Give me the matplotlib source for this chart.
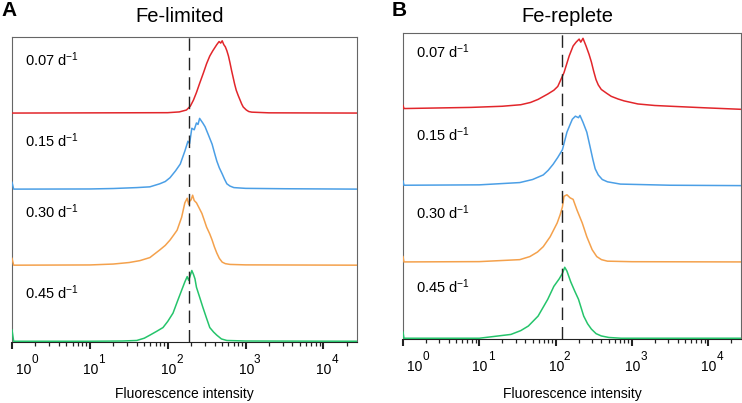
import numpy as np
import matplotlib
matplotlib.use('Agg')
import matplotlib.pyplot as plt
from matplotlib.ticker import FixedLocator, NullFormatter

plt.rcParams['font.family'] = ['Liberation Sans', 'DejaVu Sans']
plt.rcParams['mathtext.fontset'] = 'custom'
plt.rcParams['mathtext.rm'] = 'Liberation Sans'
plt.rcParams['mathtext.it'] = 'Liberation Sans:italic'
plt.rcParams['mathtext.bf'] = 'Liberation Sans:bold'

#------- data (fluorescence intensity, normalised counts)

rates = ['0.07', '0.15', '0.30', '0.45']
colors = ['#E2262B', '#4B9FE6', '#F4A14C', '#25C46B']

# Fe-limited
a_red_x = [1, 100, 141, 174, 195, 214, 234, 257, 288, 316, 347, 380, 427, 457, 479, 501, 525, 550, 575, 603, 631, 661, 692, 724, 759, 805, 851, 891, 933, 1023, 1100, 1202, 1995, 27000]
a_red_y = [0.0, 0.005, 0.015, 0.04, 0.09, 0.17, 0.27, 0.39, 0.53, 0.65, 0.75, 0.82, 0.90, 0.94, 0.92, 0.95, 0.90, 0.87, 0.82, 0.75, 0.66, 0.56, 0.47, 0.38, 0.30, 0.23, 0.17, 0.12, 0.08, 0.04, 0.02, 0.012, 0.003, 0.0]

a_blue_x = [1, 1.05, 10, 20, 40, 59, 79, 93, 107, 126, 145, 166, 182, 191, 204, 219, 234, 245, 257, 269, 282, 302, 331, 372, 398, 427, 460, 501, 537, 575, 631, 708, 1000, 3162, 27000]
a_blue_y = [0.09, 0.0, 0.002, 0.008, 0.02, 0.03, 0.07, 0.10, 0.15, 0.24, 0.33, 0.50, 0.63, 0.60, 0.80, 0.78, 0.87, 0.85, 0.93, 0.90, 0.87, 0.82, 0.72, 0.59, 0.48, 0.37, 0.28, 0.20, 0.13, 0.07, 0.04, 0.02, 0.01, 0.005, 0.0]

a_orange_x = [1, 1.05, 10, 20, 32, 44, 59, 79, 93, 107, 120, 132, 151, 166, 178, 186, 191, 200, 209, 219, 234, 251, 275, 295, 316, 347, 372, 398, 427, 460, 501, 550, 631, 1000, 27000]
a_orange_y = [0.09, 0.0, 0.003, 0.015, 0.035, 0.06, 0.10, 0.20, 0.26, 0.33, 0.40, 0.46, 0.63, 0.82, 0.88, 0.80, 0.84, 0.86, 0.92, 0.85, 0.82, 0.76, 0.68, 0.59, 0.50, 0.41, 0.33, 0.24, 0.16, 0.09, 0.04, 0.02, 0.01, 0.004, 0.0]

a_green_x = [1, 1.05, 10, 26, 40, 50, 59, 72, 87, 100, 117, 135, 151, 166, 178, 186, 200, 204, 214, 224, 234, 257, 282, 316, 347, 389, 427, 490, 575, 1000, 27000]
a_green_y = [0.15, 0.0, 0.0, 0.003, 0.01, 0.04, 0.08, 0.13, 0.18, 0.26, 0.37, 0.54, 0.67, 0.78, 0.85, 0.80, 0.90, 0.93, 0.88, 0.82, 0.71, 0.58, 0.45, 0.30, 0.18, 0.12, 0.08, 0.03, 0.01, 0.003, 0.0]

# Fe-replete
b_red_x = [1, 1.03, 7.8, 20, 35, 47, 59, 79, 95, 107, 129, 151, 170, 186, 204, 214, 229, 251, 275, 295, 316, 339, 363, 398, 468, 537, 661, 794, 1202, 2000, 3236, 8913, 27000]
b_red_y = [0.05, 0.01, 0.025, 0.04, 0.06, 0.09, 0.13, 0.20, 0.25, 0.30, 0.48, 0.70, 0.83, 0.88, 0.92, 0.88, 0.93, 0.83, 0.72, 0.62, 0.50, 0.39, 0.32, 0.26, 0.21, 0.17, 0.135, 0.11, 0.07, 0.05, 0.04, 0.02, 0.0]

b_blue_x = [1, 1.03, 10, 34, 50, 69, 80, 93, 107, 123, 141, 155, 166, 182, 200, 209, 229, 257, 282, 309, 331, 363, 410, 479, 708, 3162, 27000]
b_blue_y = [0.06, 0.005, 0.01, 0.04, 0.08, 0.14, 0.20, 0.28, 0.37, 0.47, 0.70, 0.80, 0.87, 0.91, 0.89, 0.92, 0.83, 0.70, 0.52, 0.34, 0.22, 0.14, 0.08, 0.05, 0.02, 0.005, 0.0]

b_orange_x = [1, 1.03, 10, 34, 46, 58, 69, 85, 105, 115, 123, 129, 141, 155, 170, 191, 224, 257, 302, 347, 400, 479, 1000, 27000]
b_orange_y = [0.07, 0.0, 0.004, 0.03, 0.07, 0.13, 0.20, 0.33, 0.51, 0.62, 0.72, 0.86, 0.88, 0.84, 0.82, 0.68, 0.51, 0.33, 0.16, 0.07, 0.03, 0.01, 0.003, 0.0]

b_green_x = [1, 1.03, 10, 26, 35, 44, 59, 79, 95, 112, 123, 132, 141, 158, 178, 200, 234, 263, 295, 340, 398, 500, 724, 27000]
b_green_y = [0.08, 0.0, 0.0, 0.05, 0.10, 0.16, 0.29, 0.51, 0.68, 0.78, 0.85, 0.93, 0.88, 0.74, 0.62, 0.51, 0.29, 0.19, 0.12, 0.06, 0.03, 0.01, 0.0, 0.0]

a_cut = 185
b_cut = 120

xticks = [1, 10, 100, 1000, 10000]
exponents = ['0', '1', '2', '3', '4']

panels = [
    {'letter': 'A', 'title': 'Fe-limited', 'cut': a_cut,
     'xs': [a_red_x, a_blue_x, a_orange_x, a_green_x],
     'ys': [a_red_y, a_blue_y, a_orange_y, a_green_y],
     'rect': [12/742, 1-342/403, 345/742, 305/403],
     'label_y': [3.70, 2.64, 1.70, 0.64]},
    {'letter': 'B', 'title': 'Fe-replete', 'cut': b_cut,
     'xs': [b_red_x, b_blue_x, b_orange_x, b_green_x],
     'ys': [b_red_y, b_blue_y, b_orange_y, b_green_y],
     'rect': [403/742, 1-339/403, 338/742, 306/403],
     'label_y': [3.76, 2.67, 1.64, 0.67]},
]

#------- plot

fig = plt.figure(figsize=(7.42, 4.03), dpi=100)

for p in panels:
    ax = fig.add_axes(p['rect'])
    for i in range(4):
        offset = 3 - i
        ax.plot(p['xs'][i], np.array(p['ys'][i]) + offset, color=colors[i], lw=1.1, zorder=3)
        ax.text(0.038, p['label_y'][i], rates[i] + ' d$^{-1}$', transform=ax.get_yaxis_transform(),
                fontsize=10.5, va='center', ha='left')
    ax.axvline(p['cut'], color='#222222', lw=1.0, dashes=(9, 5), zorder=4)
    ax.set_xscale('log')
    ax.set_xlim(1, 27000)
    ax.set_ylim(-0.01, 4.0)
    ax.set_yticks([])
    ax.xaxis.set_major_locator(FixedLocator(xticks))
    ax.xaxis.set_major_formatter(NullFormatter())
    minors = [m * 10**d for d in range(0, 5) for m in range(2, 10) if m * 10**d < 27000]
    ax.xaxis.set_minor_locator(FixedLocator(minors))
    ax.xaxis.set_minor_formatter(NullFormatter())
    ax.tick_params(axis='x', which='major', direction='out', length=5, width=1.5, color='#222222')
    ax.tick_params(axis='x', which='minor', direction='out', length=3, width=0.9, color='#222222')
    for s in ['left', 'right', 'top']:
        ax.spines[s].set_color('#666666')
        ax.spines[s].set_linewidth(0.8)
    ax.spines['bottom'].set_color('#222222')
    ax.spines['bottom'].set_linewidth(0.8)

    # tick labels: "10" with a raised exponent, the first one sits inside the frame
    for k, t in enumerate(xticks):
        dx = 8.5 if k == 0 else 0.5
        ax.annotate('10', xy=(t, 0), xycoords=('data', 'axes fraction'), xytext=(dx, -20),
                    textcoords='offset points', ha='center', va='center', fontsize=10)
        ax.annotate(exponents[k], xy=(t, 0), xycoords=('data', 'axes fraction'), xytext=(dx + 5.5, -13),
                    textcoords='offset points', ha='left', va='center', fontsize=8.5)

    x0, y0, w, h = p['rect']
    fig.text(x0 + w/2 - 0.006, 1 - 16/403, p['title'], fontsize=14.5, ha='center', va='center')
    fig.text(x0 + w/2, 1 - 394/403, 'Fluorescence intensity', fontsize=10, ha='center', va='center')
    fig.text(x0 - 11/742, 1 - 10/403, p['letter'], fontsize=15, fontweight='bold', ha='left', va='center')

plt.savefig('out.png', dpi=100)
